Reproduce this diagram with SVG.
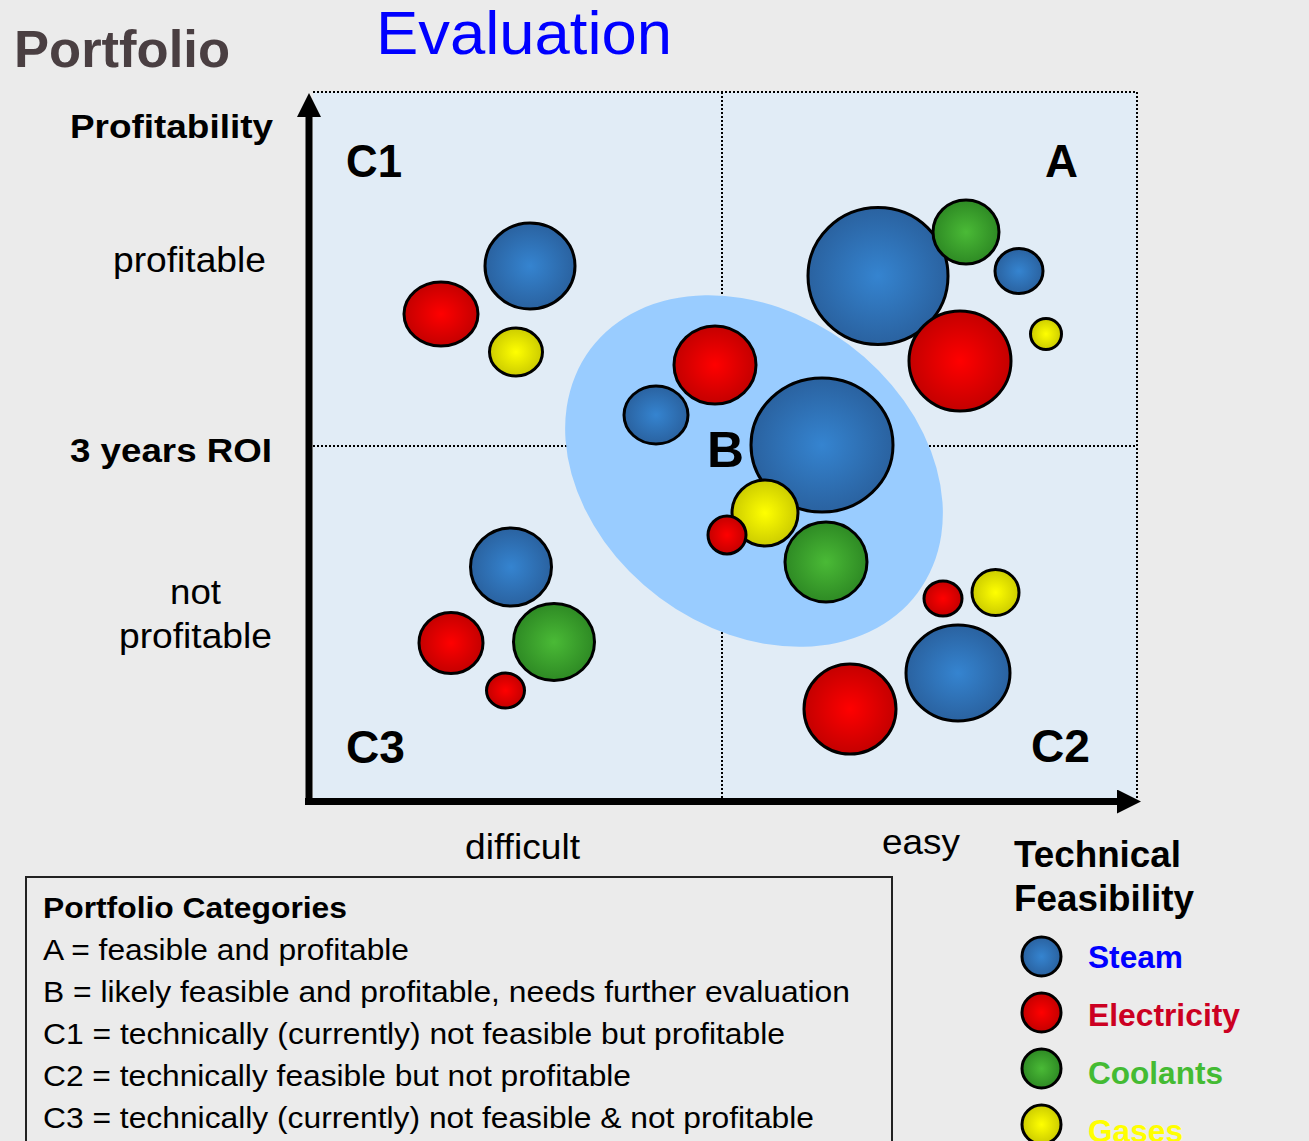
<svg xmlns="http://www.w3.org/2000/svg" width="1309" height="1141" viewBox="0 0 1309 1141">
<style>
text{font-family:"Liberation Sans",Arial,sans-serif;fill:#000}
.b{font-weight:bold}
.q{font-weight:bold;font-size:46px}
.ax{font-size:35px}
.leg{font-size:30px}
.dot{stroke:#000;stroke-width:2;stroke-dasharray:2 2;fill:none}
.c{stroke:#000;stroke-width:3}
.bl{fill:url(#gB)}.rd{fill:url(#gR)}.gr{fill:url(#gG)}.ye{fill:url(#gY)}
</style>
<defs>
<radialGradient id="gB"><stop offset="0" stop-color="#3584d0"/><stop offset="1" stop-color="#2a62a0"/></radialGradient>
<radialGradient id="gR"><stop offset="0" stop-color="#ff0000"/><stop offset="1" stop-color="#c40000"/></radialGradient>
<radialGradient id="gG"><stop offset="0" stop-color="#4aba36"/><stop offset="1" stop-color="#2e8a24"/></radialGradient>
<radialGradient id="gY"><stop offset="0" stop-color="#ffff00"/><stop offset="1" stop-color="#cccc00"/></radialGradient>
<marker id="ah" markerUnits="userSpaceOnUse" markerWidth="24" markerHeight="24" viewBox="0 0 24 24" refX="0" refY="12" orient="auto"><path d="M0,0 L24,12 L0,24 z" fill="#000"/></marker>
</defs>
<rect width="1309" height="1141" fill="#ebebeb"/>
<g id="titles">
<text x="14" y="67" class="b" font-size="52" fill="#4a3f42" style="fill:#4a3f42" textLength="216" lengthAdjust="spacingAndGlyphs">Portfolio</text>
<text x="376" y="54" font-size="62" style="fill:#0000ff" textLength="296" lengthAdjust="spacingAndGlyphs">Evaluation</text>
</g>
<g id="plot">
<rect x="313" y="92" width="824" height="708" fill="#e1ecf6"/>
<path class="dot" d="M313,92 H1137 V800 M313,446 H1136 M722,92 V800"/>
</g>
<g id="node-B-region">
<ellipse cx="754" cy="471" rx="204" ry="158" transform="rotate(36.7 754 471)" fill="#99ccff"/>
</g>
<g id="node-C1">
<ellipse class="c bl" cx="530" cy="266" rx="45" ry="43"/>
<ellipse class="c rd" cx="441" cy="314" rx="37" ry="32"/>
<ellipse class="c ye" cx="516" cy="352" rx="26.5" ry="24"/>
<text class="q" x="346" y="177" textLength="56" lengthAdjust="spacingAndGlyphs">C1</text>
</g>
<g id="node-A">
<ellipse class="c bl" cx="878" cy="276" rx="70" ry="68.5"/>
<ellipse class="c gr" cx="966" cy="232" rx="33" ry="32"/>
<ellipse class="c bl" cx="1019" cy="271" rx="24" ry="22.5"/>
<ellipse class="c rd" cx="960" cy="361" rx="51" ry="50"/>
<circle class="c ye" cx="1046" cy="334" r="15.5"/>
<text class="q" x="1045" y="177" textLength="33" lengthAdjust="spacingAndGlyphs">A</text>
</g>
<g id="node-B">
<ellipse class="c rd" cx="715" cy="365" rx="41" ry="39"/>
<ellipse class="c bl" cx="656" cy="415" rx="32" ry="29"/>
<ellipse class="c bl" cx="822" cy="445" rx="71" ry="67"/>
<circle class="c ye" cx="765" cy="513" r="33"/>
<circle class="c rd" cx="727" cy="535" r="19"/>
<ellipse class="c gr" cx="826" cy="562" rx="41" ry="40"/>
<text class="b" font-size="50" x="707" y="467" textLength="37" lengthAdjust="spacingAndGlyphs">B</text>
</g>
<g id="node-C3">
<ellipse class="c bl" cx="511" cy="567" rx="40.5" ry="39"/>
<ellipse class="c rd" cx="451" cy="643" rx="32" ry="30.5"/>
<ellipse class="c gr" cx="554" cy="642" rx="40.5" ry="38.5"/>
<ellipse class="c rd" cx="505.5" cy="690.5" rx="19" ry="17.5"/>
<text class="q" x="346" y="763" textLength="59" lengthAdjust="spacingAndGlyphs">C3</text>
</g>
<g id="node-C2">
<ellipse class="c rd" cx="943" cy="598.5" rx="19" ry="17.5"/>
<ellipse class="c ye" cx="995.5" cy="592.5" rx="23.5" ry="23"/>
<ellipse class="c bl" cx="958" cy="673" rx="52" ry="48"/>
<ellipse class="c rd" cx="850" cy="709" rx="46" ry="45"/>
<text class="q" x="1031" y="762" textLength="59" lengthAdjust="spacingAndGlyphs">C2</text>
</g>
<g id="connectors">
<line x1="309" y1="805" x2="309" y2="117" stroke="#000" stroke-width="7" marker-end="url(#ah)"/>
<line x1="305" y1="801.5" x2="1117" y2="801.5" stroke="#000" stroke-width="7" marker-end="url(#ah)"/>
</g>
<g id="axis-labels">
<text class="b" font-size="34" x="70" y="138" textLength="203" lengthAdjust="spacingAndGlyphs">Profitability</text>
<text class="ax" x="113" y="272" textLength="153" lengthAdjust="spacingAndGlyphs">profitable</text>
<text class="b" font-size="34" x="70" y="462" textLength="202" lengthAdjust="spacingAndGlyphs">3 years ROI</text>
<text class="ax" x="170" y="604" textLength="51" lengthAdjust="spacingAndGlyphs">not</text>
<text class="ax" x="119" y="648" textLength="153" lengthAdjust="spacingAndGlyphs">profitable</text>
<text class="ax" x="465" y="859" textLength="115" lengthAdjust="spacingAndGlyphs">difficult</text>
<text class="ax" x="882" y="854" textLength="78" lengthAdjust="spacingAndGlyphs">easy</text>
<text class="b" font-size="36" x="1014" y="867" textLength="167" lengthAdjust="spacingAndGlyphs">Technical</text>
<text class="b" font-size="36" x="1014" y="911" textLength="180" lengthAdjust="spacingAndGlyphs">Feasibility</text>
</g>
<g id="categories">
<rect x="26" y="877" width="866" height="300" fill="none" stroke="#222" stroke-width="2"/>
<text class="leg b" x="43" y="918" textLength="304" lengthAdjust="spacingAndGlyphs">Portfolio Categories</text>
<text class="leg" x="43" y="960" textLength="366" lengthAdjust="spacingAndGlyphs">A = feasible and profitable</text>
<text class="leg" x="43" y="1002" textLength="807" lengthAdjust="spacingAndGlyphs">B = likely feasible and profitable, needs further evaluation</text>
<text class="leg" x="43" y="1044" textLength="742" lengthAdjust="spacingAndGlyphs">C1 = technically (currently) not feasible but profitable</text>
<text class="leg" x="43" y="1086" textLength="588" lengthAdjust="spacingAndGlyphs">C2 = technically feasible but not profitable</text>
<text class="leg" x="43" y="1128" textLength="771" lengthAdjust="spacingAndGlyphs">C3 = technically (currently) not feasible &amp; not profitable</text>
</g>
<g id="legend">
<circle class="c bl" cx="1041.5" cy="956.5" r="19.5"/>
<circle class="c rd" cx="1041.5" cy="1012.5" r="19.5"/>
<circle class="c gr" cx="1041.5" cy="1068.5" r="19.5"/>
<circle class="c ye" cx="1041.5" cy="1124.5" r="19.5"/>
<text class="b" font-size="32" x="1088" y="968" style="fill:#0000ff" textLength="95" lengthAdjust="spacingAndGlyphs">Steam</text>
<text class="b" font-size="32" x="1088" y="1026" style="fill:#cc0022" textLength="152" lengthAdjust="spacingAndGlyphs">Electricity</text>
<text class="b" font-size="32" x="1088" y="1084" style="fill:#44bb33" textLength="135" lengthAdjust="spacingAndGlyphs">Coolants</text>
<text class="b" font-size="32" x="1088" y="1142" style="fill:#ffff00" textLength="95" lengthAdjust="spacingAndGlyphs">Gases</text>
</g>
</svg>
